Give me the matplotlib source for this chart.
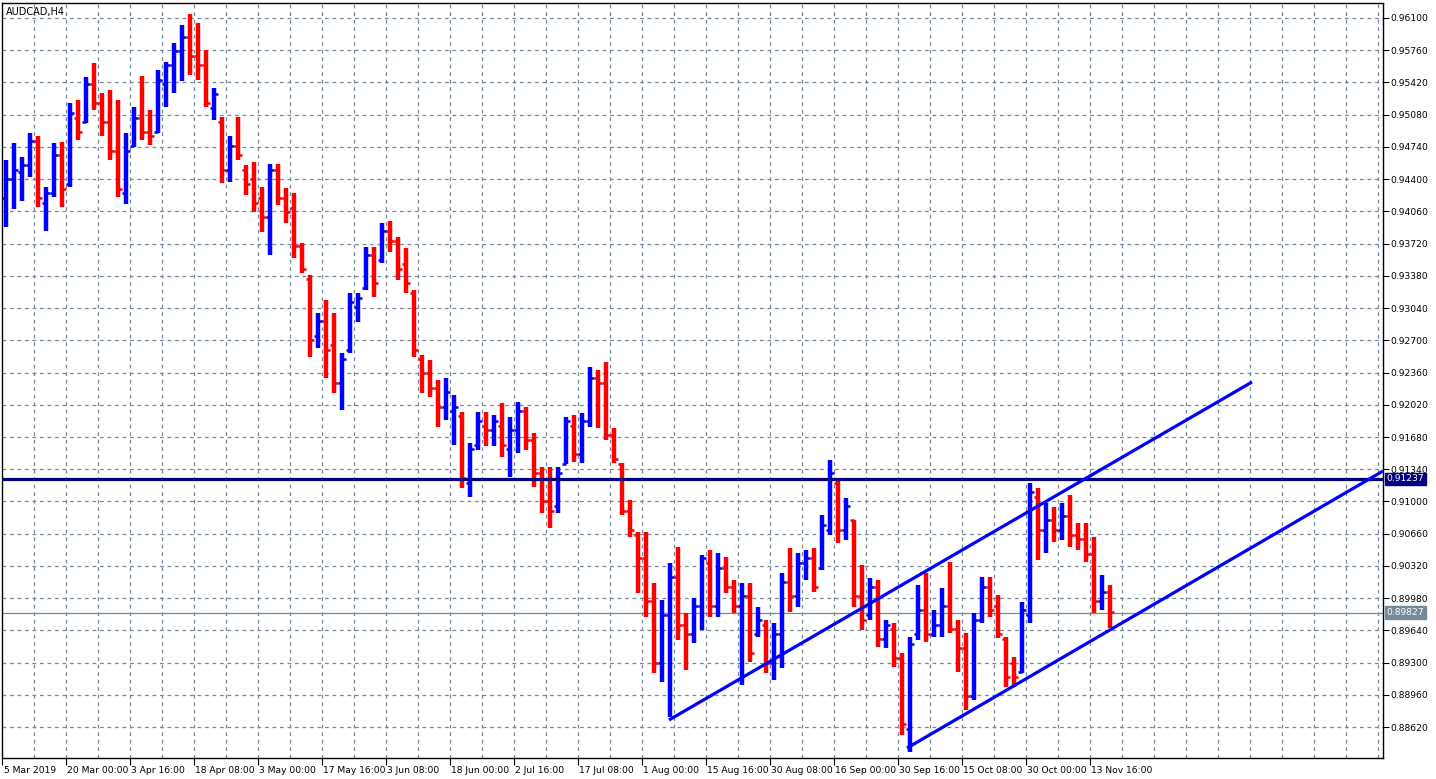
import numpy as np
import matplotlib
matplotlib.use("Agg")
import matplotlib.pyplot as plt
from matplotlib.transforms import blended_transform_factory

# ---------------- data (AUDCAD H4, aggregated in 8-bar groups) ----------------
symbol_title = "AUDCAD,H4"
bars_per_group = 8

highs = [0.9460, 0.9478, 0.9463, 0.9489, 0.9485, 0.9432, 0.9478, 0.9479, 0.9520, 0.9524,
         0.9548, 0.9563, 0.9531, 0.9534, 0.9524, 0.9489, 0.9516, 0.9549, 0.9513, 0.9555,
         0.9564, 0.9584, 0.9603, 0.9614, 0.9605, 0.9576, 0.9536, 0.9506, 0.9485, 0.9506,
         0.9455, 0.9458, 0.9432, 0.9456, 0.9456, 0.9431, 0.9425, 0.9373, 0.9339, 0.9299,
         0.9313, 0.9299, 0.9257, 0.9320, 0.9320, 0.9368, 0.9368, 0.9394, 0.9396, 0.9379,
         0.9367, 0.9323, 0.9255, 0.9249, 0.9228, 0.9230, 0.9212, 0.9194, 0.9162, 0.9194,
         0.9194, 0.9191, 0.9204, 0.9189, 0.9205, 0.9200, 0.9172, 0.9136, 0.9136, 0.9136,
         0.9189, 0.9191, 0.9193, 0.9242, 0.9239, 0.9247, 0.9178, 0.9141, 0.9102, 0.9068,
         0.9068, 0.9014, 0.8996, 0.9035, 0.9052, 0.8982, 0.8998, 0.9044, 0.9049, 0.9046,
         0.9041, 0.9017, 0.9014, 0.9014, 0.8989, 0.8975, 0.8972, 0.9025, 0.9051, 0.9046,
         0.9049, 0.9051, 0.9086, 0.9144, 0.9123, 0.9104, 0.9080, 0.9033, 0.9019, 0.9017,
         0.8975, 0.8972, 0.8940, 0.8957, 0.9012, 0.9025, 0.8986, 0.9009, 0.9036, 0.8975,
         0.8961, 0.8982, 0.9020, 0.9020, 0.9001, 0.8957, 0.8936, 0.8994, 0.9120, 0.9114,
         0.9098, 0.9094, 0.9098, 0.9107, 0.9077, 0.9077, 0.9063, 0.9022, 0.9012]

lows = [0.9389, 0.9408, 0.9417, 0.9442, 0.9411, 0.9385, 0.9421, 0.9411, 0.9432, 0.9481,
        0.9499, 0.9513, 0.9485, 0.9460, 0.9421, 0.9414, 0.9474, 0.9481, 0.9476, 0.9489,
        0.9516, 0.9531, 0.9543, 0.9550, 0.9545, 0.9516, 0.9502, 0.9436, 0.9437, 0.9460,
        0.9423, 0.9405, 0.9384, 0.9360, 0.9413, 0.9394, 0.9357, 0.9341, 0.9252, 0.9262,
        0.9230, 0.9214, 0.9197, 0.9257, 0.9289, 0.9323, 0.9316, 0.9352, 0.9363, 0.9334,
        0.9320, 0.9252, 0.9214, 0.9210, 0.9179, 0.9186, 0.9160, 0.9114, 0.9105, 0.9154,
        0.9158, 0.9158, 0.9147, 0.9126, 0.9151, 0.9154, 0.9115, 0.9088, 0.9072, 0.9088,
        0.9139, 0.9142, 0.9141, 0.9179, 0.9178, 0.9165, 0.9141, 0.9086, 0.9063, 0.9003,
        0.8978, 0.8919, 0.8910, 0.8873, 0.8954, 0.8922, 0.8951, 0.8964, 0.8978, 0.8978,
        0.9003, 0.8982, 0.8906, 0.8931, 0.8957, 0.8919, 0.8912, 0.8924, 0.8983, 0.8989,
        0.9017, 0.9005, 0.9028, 0.9065, 0.9056, 0.9059, 0.8989, 0.8964, 0.8975, 0.8947,
        0.8945, 0.8925, 0.8854, 0.8836, 0.8954, 0.8952, 0.8957, 0.8957, 0.8961, 0.8920,
        0.8880, 0.8891, 0.8972, 0.8978, 0.8956, 0.8904, 0.8904, 0.8919, 0.8972, 0.9038,
        0.9046, 0.9057, 0.9059, 0.9052, 0.9049, 0.9036, 0.8982, 0.8986, 0.8967]

opens = [0.9420, 0.9440, 0.9448, 0.9455, 0.9480, 0.9415, 0.9425, 0.9465, 0.9435, 0.9505,
         0.9500, 0.9540, 0.9520, 0.9500, 0.9470, 0.9425, 0.9475, 0.9505, 0.9490, 0.9490,
         0.9540, 0.9560, 0.9575, 0.9590, 0.9570, 0.9560, 0.9515, 0.9500, 0.9450, 0.9475,
         0.9450, 0.9440, 0.9420, 0.9400, 0.9450, 0.9420, 0.9410, 0.9370, 0.9335, 0.9275,
         0.9290, 0.9265, 0.9225, 0.9260, 0.9305, 0.9325, 0.9360, 0.9355, 0.9385, 0.9375,
         0.9350, 0.9320, 0.9250, 0.9235, 0.9220, 0.9200, 0.9195, 0.9190, 0.9120, 0.9160,
         0.9180, 0.9175, 0.9180, 0.9155, 0.9175, 0.9195, 0.9165, 0.9130, 0.9100, 0.9095,
         0.9140, 0.9180, 0.9150, 0.9185, 0.9230, 0.9225, 0.9170, 0.9140, 0.9090, 0.9065,
         0.9040, 0.8995, 0.8930, 0.8980, 0.9020, 0.8970, 0.8960, 0.8990, 0.9035, 0.8990,
         0.9030, 0.9010, 0.8990, 0.9000, 0.8960, 0.8970, 0.8930, 0.8960, 0.9015, 0.9000,
         0.9035, 0.9040, 0.9030, 0.9070, 0.9120, 0.9070, 0.9080, 0.9000, 0.8980, 0.9010,
         0.8955, 0.8965, 0.8935, 0.8860, 0.8960, 0.8985, 0.8960, 0.8970, 0.8990, 0.8965,
         0.8945, 0.8895, 0.8975, 0.9010, 0.8990, 0.8955, 0.8930, 0.8920, 0.8980, 0.9105,
         0.9070, 0.9080, 0.9070, 0.9085, 0.9065, 0.9060, 0.9045, 0.8995, 0.9005]

closes = [0.9440, 0.9450, 0.9455, 0.9480, 0.9420, 0.9425, 0.9465, 0.9430, 0.9510, 0.9490,
          0.9540, 0.9520, 0.9500, 0.9470, 0.9430, 0.9470, 0.9505, 0.9490, 0.9485, 0.9545,
          0.9560, 0.9575, 0.9590, 0.9570, 0.9560, 0.9520, 0.9530, 0.9450, 0.9475, 0.9465,
          0.9435, 0.9415, 0.9400, 0.9450, 0.9420, 0.9405, 0.9370, 0.9345, 0.9270, 0.9290,
          0.9260, 0.9225, 0.9250, 0.9310, 0.9315, 0.9360, 0.9330, 0.9385, 0.9375, 0.9345,
          0.9330, 0.9260, 0.9235, 0.9220, 0.9200, 0.9215, 0.9200, 0.9125, 0.9155, 0.9185,
          0.9175, 0.9185, 0.9160, 0.9175, 0.9195, 0.9165, 0.9130, 0.9100, 0.9090, 0.9130,
          0.9185, 0.9150, 0.9185, 0.9230, 0.9225, 0.9170, 0.9145, 0.9090, 0.9070, 0.9040,
          0.8995, 0.8930, 0.8980, 0.9020, 0.8970, 0.8960, 0.8990, 0.9040, 0.8990, 0.9030,
          0.9010, 0.8990, 0.9000, 0.8940, 0.8975, 0.8930, 0.8960, 0.9015, 0.9000, 0.9035,
          0.9040, 0.9010, 0.9075, 0.9130, 0.9070, 0.9095, 0.9000, 0.8975, 0.9010, 0.8955,
          0.8970, 0.8935, 0.8865, 0.8950, 0.8985, 0.8960, 0.8970, 0.8990, 0.8965, 0.8945,
          0.8895, 0.8975, 0.9010, 0.8985, 0.8960, 0.8915, 0.8915, 0.8985, 0.9110, 0.9070,
          0.9080, 0.9070, 0.9085, 0.9065, 0.9060, 0.9045, 0.8995, 0.9005, 0.8983]

date_labels = ["5 Mar 2019", "20 Mar 00:00", "3 Apr 16:00", "18 Apr 08:00", "3 May 00:00",
               "17 May 16:00", "3 Jun 08:00", "18 Jun 00:00", "2 Jul 16:00", "17 Jul 08:00",
               "1 Aug 00:00", "15 Aug 16:00", "30 Aug 08:00", "16 Sep 00:00", "30 Sep 16:00",
               "15 Oct 08:00", "30 Oct 00:00", "13 Nov 16:00"]
bars_per_label = 64

price_ticks = [0.96100, 0.95760, 0.95420, 0.95080, 0.94740, 0.94400, 0.94060, 0.93720,
               0.93380, 0.93040, 0.92700, 0.92360, 0.92020, 0.91680, 0.91340, 0.91000,
               0.90660, 0.90320, 0.89980, 0.89640, 0.89300, 0.88960, 0.88620]

level_price = 0.91237       # horizontal support/resistance line
last_price = 0.89827        # current bid line

# trend lines: (bar index, price) endpoints
trend_upper = [(667, 0.88695), (1250, 0.92260)]
trend_lower = [(905, 0.88399), (1381, 0.91321)]

# ---------------- figure ----------------
W, H = 1436, 779
fig = plt.figure(figsize=(W / 100, H / 100), dpi=100)
fig.patch.set_facecolor("white")
ax_l, ax_r, ax_t, ax_b = 2, 1383, 3, 758
ax = fig.add_axes([ax_l / W, (H - ax_b) / H, (ax_r - ax_l) / W, (ax_b - ax_t) / H])
ax.set_facecolor("white")

n_bars_visible = ax_r - ax_l
ax.set_xlim(0, n_bars_visible)
ax.set_ylim(0.88294, 0.96258)

grid_col = "#778899"
# grid
for gx in range(32, n_bars_visible, 32):
    ax.axvline(gx, color=grid_col, lw=0.9, ls=(0, (3, 3)), zorder=0)
for p in price_ticks:
    ax.axhline(p, color=grid_col, lw=0.9, ls=(0, (3, 3)), zorder=0)

# bars
n = len(highs)
xs = np.arange(n) * bars_per_group + bars_per_group / 2
half = bars_per_group * 0.5
for x, o, h, l, c in zip(xs, opens, highs, lows, closes):
    col = "#0000FF" if c >= o else "#FF0000"
    ax.plot([x, x], [l, h], color=col, lw=3.2, solid_capstyle="butt", zorder=3)
    ax.plot([x - half, x], [o, o], color=col, lw=1.8, solid_capstyle="butt", zorder=3)
    ax.plot([x, x + half], [c, c], color=col, lw=1.8, solid_capstyle="butt", zorder=3)

# horizontal level and current price
ax.axhline(level_price, color="#000080", lw=2.3, zorder=4)
ax.axhline(last_price, color=grid_col, lw=0.9, zorder=2)

# trend lines
for seg in (trend_upper, trend_lower):
    (x0, y0), (x1, y1) = seg
    ax.plot([x0, x1], [y0, y1], color="#0000FF", lw=2.3, zorder=5, solid_capstyle="butt")

# axes styling
for s in ax.spines.values():
    s.set_color("black")
    s.set_linewidth(1.0)

lab_fs = 6.6
ax.yaxis.tick_right()
ax.set_yticks(price_ticks)
ax.set_yticklabels([f"{p:.5f}" for p in price_ticks])
ax.tick_params(axis="y", direction="out", length=4, width=0.8, pad=1,
               labelsize=lab_fs, colors="black")

xt = np.arange(len(date_labels)) * bars_per_label
ax.set_xticks(xt)
ax.set_xticklabels([])
ax.tick_params(axis="x", direction="out", length=5, width=0.8, colors="black")
trans = blended_transform_factory(ax.transData, ax.transAxes)
for x, lab in zip(xt, date_labels):
    ax.text(x + 1.5, -0.0105, lab, transform=trans, ha="left", va="top",
            fontsize=lab_fs, color="black", clip_on=False)

# title
ax.text(0.003, 0.995, symbol_title, transform=ax.transAxes, ha="left", va="top",
        fontsize=7.0, color="black")

# price boxes on the right scale
ytr = blended_transform_factory(ax.transAxes, ax.transData)
ax.text(1.0025, level_price, f"{level_price:.5f}", transform=ytr, ha="left", va="center",
        fontsize=lab_fs, color="white", clip_on=False,
        bbox=dict(boxstyle="square,pad=0.2", fc="#000080", ec="#000080"))
ax.text(1.0025, last_price, f"{last_price:.5f}", transform=ytr, ha="left", va="center",
        fontsize=lab_fs, color="white", clip_on=False,
        bbox=dict(boxstyle="square,pad=0.2", fc=grid_col, ec=grid_col))

fig.savefig("out.png", dpi=100, facecolor="white")
